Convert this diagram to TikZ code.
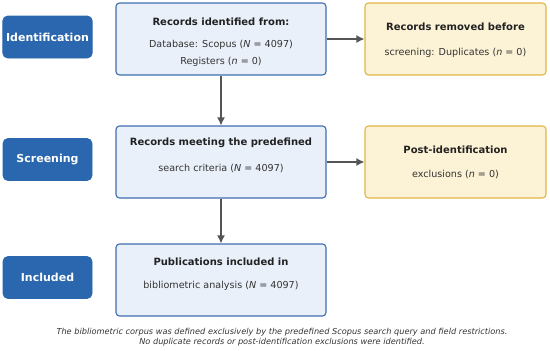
\documentclass[tikz,border=0pt]{standalone}
\usepackage{fontspec}
\setmainfont{DejaVu Sans}
\usetikzlibrary{arrows.meta}
\definecolor{stageblue}{HTML}{2A67AF}
\definecolor{mainfill}{HTML}{EAF0FA}
\definecolor{mainedge}{HTML}{3E6DAE}
\definecolor{sidefill}{HTML}{FCF2D5}
\definecolor{sideedge}{HTML}{E2B646}
\definecolor{arrowgray}{HTML}{555555}
\definecolor{textdark}{HTML}{222222}
\definecolor{textmid}{HTML}{333333}

\begin{document}
\begin{tikzpicture}[x=1pt, y=-1pt,
  stage/.style={draw=stageblue, fill=stageblue, rounded corners=5pt, line width=0.8pt,
    minimum width=89pt, minimum height=42pt, text=white, font=\fontsize{11}{13}\selectfont\bfseries},
  mainbox/.style={draw=mainedge, fill=mainfill, rounded corners=3.5pt, line width=1.1pt,
    minimum width=210pt, minimum height=72pt},
  sidebox/.style={draw=sideedge, fill=sidefill, rounded corners=3.5pt, line width=1.1pt,
    minimum width=181pt, minimum height=72pt},
  head/.style={text=textdark, font=\fontsize{10}{12}\selectfont\bfseries, inner sep=0pt},
  body/.style={text=textmid, font=\fontsize{9.6}{11}\selectfont, inner sep=0pt},
  flow/.style={draw=arrowgray, line width=1.4pt, -{Latex[length=8pt,width=8pt]}}]
  \useasboundingbox (0,0) rectangle (550,351);

  \node[stage] (idst) at (47.5,37) {Identification};
  \node[stage] (scrst) at (47.5,159.5) {Screening};
  \node[stage] (incst) at (47.5,277.5) {Included};

  \node[mainbox] (rec) at (221,39) {};
  \node[mainbox] (scr) at (221,162) {};
  \node[mainbox] (inc) at (221,280) {};
  \node[sidebox] (rem) at (455.5,39) {};
  \node[sidebox] (post) at (455.5,162) {};

  \node[head] (rect) at (221,22) {Records identified from:};
  \node[body] (recl1) at (221,45) {Database: Scopus (\textit{N} = 4097)};
  \node[body] (recl2) at (221,62) {Registers (\textit{n} = 0)};
  \node[head] (scrt) at (221,143) {Records meeting the predefined};
  \node[body] (scrl) at (221,168) {search criteria (\textit{N} = 4097)};
  \node[head] (inct) at (221,262) {Publications included in};
  \node[body] (incl) at (221,286) {bibliometric analysis (\textit{N} = 4097)};
  \node[head] (remt) at (455.5,27) {Records removed before};
  \node[body] (reml) at (455.5,53) {screening: Duplicates (\textit{n} = 0)};
  \node[head] (postt) at (455.5,150) {Post-identification};
  \node[body] (postl) at (455.5,174) {exclusions (\textit{n} = 0)};

  \draw[flow] (rec.south) -- (scr.north);
  \draw[flow] (scr.south) -- (inc.north);
  \draw[flow] (rec.east) -- (rem.west);
  \draw[flow] (scr.east) -- (post.west);

  \node[text=textmid, align=center, inner sep=0pt,
    font=\fontsize{8.2}{10}\selectfont\itshape] (note) at (282,337)
    {The bibliometric corpus was defined exclusively by the predefined Scopus search query and field restrictions.\\
     No duplicate records or post-identification exclusions were identified.};
\end{tikzpicture}
\end{document}
